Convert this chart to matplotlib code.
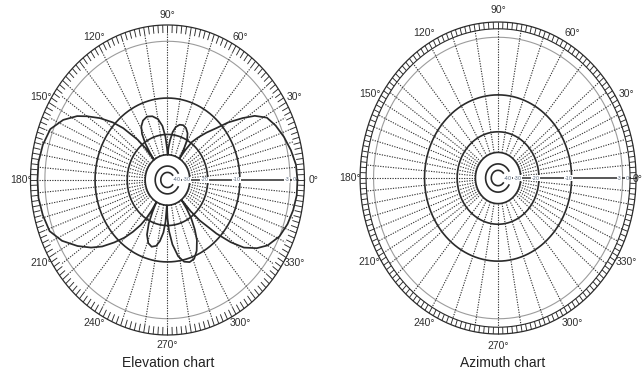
import numpy as np
import matplotlib

matplotlib.use("Agg")
import matplotlib.pyplot as plt  # noqa: E402
from matplotlib.transforms import offset_copy  # noqa: E402

# elevation pattern (angle in degrees, level in dB)
PATTERN_DEG = [
    0, 6, 12, 18, 24, 29, 33, 36, 40, 43, 47, 51, 54, 56, 57.5,
    59, 61, 64, 68, 72, 76, 80, 83, 86, 88, 89.5,
    91, 93, 96, 100, 105, 110, 115, 119, 122, 124.5, 126, 127,
    128, 130, 134, 137, 141, 145, 148, 153, 159, 166, 173,
    180, 187, 194, 201, 207, 213, 218, 222, 226, 230, 233, 236, 238, 239.5, 240.5,
    242, 244, 247, 251, 255, 259, 262, 265, 267, 268.5,
    270, 272, 275, 279, 283, 287, 291, 295, 299, 302, 305, 307, 308.5,
    310, 312, 316, 319, 322, 326, 330, 336, 342, 348, 354,
]
PATTERN_DB = [
    0.0, -0.1, -0.5, -1.0, -1.6, -2.3, -3.8, -5.7, -8.5, -11.2, -14, -17, -19.5, -24, -30,
    -24, -20, -17.8, -16.5, -16, -16.2, -17.2, -19, -22.5, -26, -30,
    -26, -21, -17, -14.8, -13.7, -13.3, -13.8, -15, -17, -20.5, -25, -30,
    -22, -17.5, -12.2, -9.5, -6.9, -4.8, -3.4, -1.8, -0.6, -0.2, 0.0,
    0.0, 0.0, -0.2, -0.5, -1.6, -3.3, -5.0, -6.7, -9, -11.5, -14, -17, -20, -24, -30,
    -24, -19, -15.5, -13.5, -12.9, -13.4, -14.8, -17.5, -21.5, -30,
    -23, -18, -14, -11, -9.6, -9.2, -9.5, -10.8, -13, -15.8, -19.5, -24, -30,
    -22, -17, -11, -7.5, -5.0, -3.2, -2.0, -1.0, -0.5, -0.2, 0.0,
]

RING_DB = [-10, -20, -30]
GRAY_RING_DB = -1
C_RING_DB = [-40, -50]
C_GAP_DEG = [30, 40]
SCALE_LABELS = ["-40", "-30", "-20", "-10", "-3", "0"]
SCALE_LABEL_DB = [-40, -30, -20, -10, -1, 0]
ANGLE_LABELS = list(range(0, 360, 30))
TITLES = ["Elevation chart", "Azimuth chart"]

INK = "#2a2a2a"


def _fwd(db):
    return np.power(0.89, -np.asarray(db, dtype=float) / 2.0)


def _inv(r):
    with np.errstate(divide="ignore", invalid="ignore"):
        return -2.0 * np.log(np.asarray(r, dtype=float)) / np.log(0.89)


def _spoke_angles():
    # 5 degree spokes near the horizon, 10 degree ones towards the vertical
    deg = np.arange(5, 360, 5)
    keep = (deg % 10 == 0) | (np.abs(np.sin(np.deg2rad(deg))) < 0.6)
    return np.deg2rad(deg[keep])


def _draw_grid(fig, ax, rmax, boxed, skip_zero_label=False):
    ax.set_rscale("function", functions=(_fwd, _inv))
    ax.set_rlim(-100, rmax)
    ax.set_aspect("auto")
    ax.axis("off")

    full = np.linspace(0, 2 * np.pi, 721)
    for lvl in RING_DB:
        ax.plot(full, np.full_like(full, lvl), color=INK, lw=1.2)
    ax.plot(full, np.full_like(full, GRAY_RING_DB), color="#9c9c9c", lw=0.8)

    for lvl, gap in zip(C_RING_DB, C_GAP_DEG):
        arc = np.deg2rad(np.linspace(gap, 360 - gap, 300))
        ax.plot(arc, np.full_like(arc, lvl), color=INK, lw=1.2)

    # dotted spokes
    ax.vlines(_spoke_angles(), -30, 0, colors="#333333", lw=0.8,
              linestyles=[(0, (1.1, 1.2))])
    ax.plot([0, 0], [-46, -0.3], color=INK, lw=1.1)

    # outer degree band
    ticks = np.deg2rad(np.arange(0, 360, 2))
    ax.vlines(ticks, 0, rmax, colors=INK, lw=0.65, clip_on=False)
    ax.plot(full, np.full_like(full, rmax), color=INK, lw=0.9, clip_on=False)
    if boxed:
        ax.plot(full, np.zeros_like(full), color=INK, lw=0.8, clip_on=False)

    for a in ANGLE_LABELS:
        if a == 0 and skip_zero_label:
            continue
        ax.text(np.deg2rad(a), 2.0, f"{a}°", ha="center", va="center",
                fontsize=7.5, color="#2f2f2f", family="Liberation Sans",
                clip_on=False)

    trans = offset_copy(ax.transData, fig=fig, x=-3, y=0, units="dots")
    for txt, lvl in zip(SCALE_LABELS, SCALE_LABEL_DB):
        ax.text(0, lvl, txt, transform=trans, ha="center", va="center",
                fontsize=3.6, color="#5a6a80",
                bbox=dict(facecolor="white", edgecolor="none", pad=0.3))


fig = plt.figure(figsize=(6.43, 3.75), dpi=100)

ax_el = fig.add_axes([0.0474, 0.1067, 0.4261, 0.8267], projection="polar")
_draw_grid(fig, ax_el, 0.9, False)
theta = np.deg2rad(PATTERN_DEG + [360])
ax_el.plot(theta, PATTERN_DB + [PATTERN_DB[0]], color=INK, lw=1.25)

ax_az = fig.add_axes([0.560, 0.1093, 0.4292, 0.832], projection="polar")
_draw_grid(fig, ax_az, 0.76, True, skip_zero_label=True)
# the 0° label of the right chart sits against the picture's edge
fig.text(0.999, 1 - 179 / 375, "0°", ha="right", va="center", fontsize=7.5,
         color="#2f2f2f", family="Liberation Sans")

fig.text(168 / 643, 1 - 363 / 375, TITLES[0], ha="center", va="center",
         fontsize=10, family="Liberation Sans", color="#222222")
fig.text(503 / 643, 1 - 363 / 375, TITLES[1], ha="center", va="center",
         fontsize=10, family="Liberation Sans", color="#222222")

fig.savefig("out.png", dpi=100, facecolor="white")
